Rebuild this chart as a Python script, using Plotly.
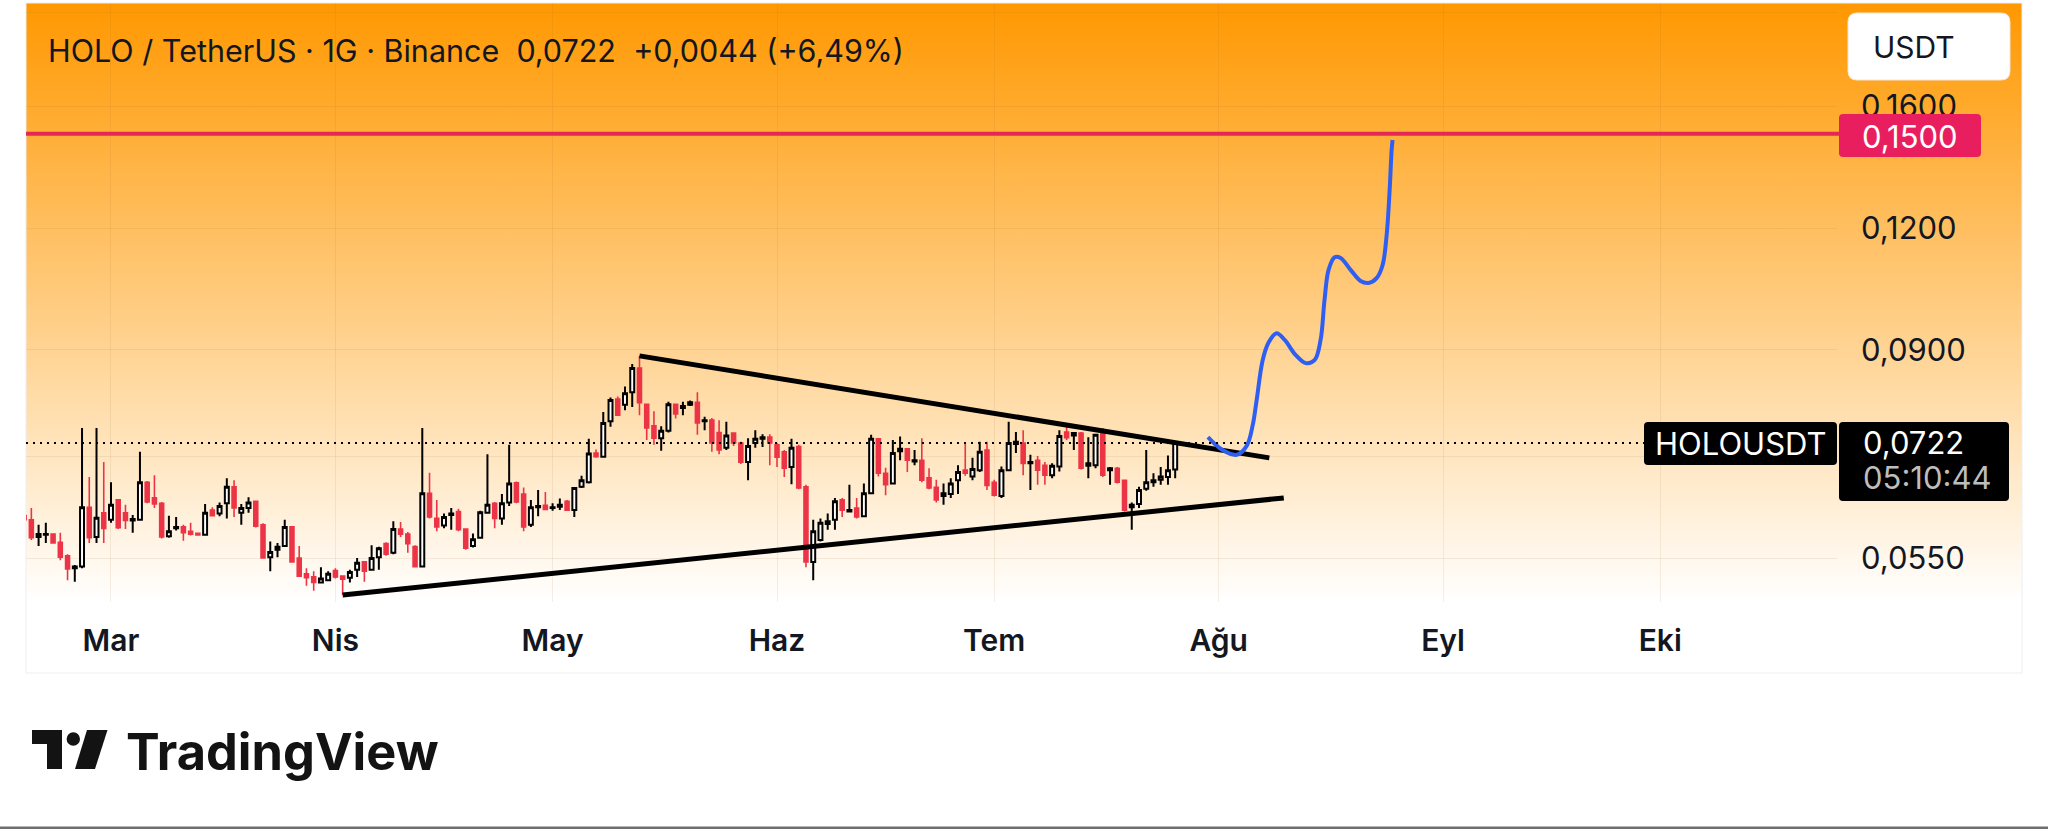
import base64
import numpy as np
import pandas as pd
import plotly.graph_objects as go

# ---------------- data ----------------
start_date = "2026-02-17"

opens = [
    0.0608, 0.0602, 0.0578, 0.0581, 0.0582, 0.0571, 0.0553, 0.0537, 0.0539, 0.0620, 0.0578, 0.0612,
    0.0602, 0.0631, 0.0612, 0.0601, 0.0602, 0.0658, 0.0634, 0.0626, 0.0579, 0.0590,
    0.0592, 0.0586, 0.0583, 0.0581, 0.0616, 0.0611, 0.0626, 0.0651, 0.0612, 0.0619,
    0.0629, 0.0595, 0.0551, 0.0561, 0.0566, 0.0592, 0.0550, 0.0530, 0.0526, 0.0519, 0.0522,
    0.0534, 0.0527, 0.0525, 0.0535, 0.0545, 0.0535, 0.0551, 0.0569, 0.0557, 0.0589,
    0.0582, 0.0565, 0.0539, 0.0641, 0.0604, 0.0594, 0.0609, 0.0614, 0.0589, 0.0566,
    0.0577, 0.0612, 0.0626, 0.0604, 0.0627, 0.0657, 0.0640, 0.0595, 0.0620, 0.0623,
    0.0619, 0.0621, 0.0629, 0.0616, 0.0651, 0.0658, 0.0705, 0.0699, 0.0760, 0.0801,
    0.0790, 0.0814, 0.0862, 0.0791, 0.0752, 0.0730, 0.0743, 0.0791, 0.0784, 0.0790,
    0.0795, 0.0760, 0.0762, 0.0740, 0.0714, 0.0739, 0.0722, 0.0690, 0.0722, 0.0729, 0.0732,
    0.0719, 0.0707, 0.0682, 0.0716, 0.0651, 0.0545, 0.0574, 0.0596, 0.0602, 0.0631,
    0.0614, 0.0619, 0.0607, 0.0641, 0.0729, 0.0672, 0.0656, 0.0708, 0.0712, 0.0691,
    0.0693, 0.0665, 0.0650, 0.0637, 0.0640, 0.0661, 0.0677, 0.0667, 0.0677, 0.0710,
    0.0658, 0.0637, 0.0677, 0.0720, 0.0722, 0.0688, 0.0693, 0.0685, 0.0669, 0.0683,
    0.0741, 0.0735, 0.0739, 0.0684, 0.0685, 0.0741, 0.0677, 0.0680, 0.0661, 0.0620,
    0.0625, 0.0648, 0.0658, 0.0662, 0.0666, 0.0678,
]
highs = [
    0.0612, 0.0619, 0.0595, 0.0598, 0.0583, 0.0584, 0.0555, 0.0541, 0.0748, 0.0666, 0.0748, 0.0690,
    0.0658, 0.0632, 0.0624, 0.0609, 0.0707, 0.0660, 0.0669, 0.0628, 0.0608, 0.0606,
    0.0595, 0.0598, 0.0584, 0.0625, 0.0620, 0.0627, 0.0664, 0.0661, 0.0625, 0.0635,
    0.0630, 0.0597, 0.0572, 0.0570, 0.0602, 0.0593, 0.0566, 0.0537, 0.0533, 0.0538, 0.0533,
    0.0537, 0.0528, 0.0535, 0.0550, 0.0546, 0.0567, 0.0565, 0.0571, 0.0600, 0.0599,
    0.0585, 0.0567, 0.0748, 0.0673, 0.0631, 0.0611, 0.0619, 0.0618, 0.0590, 0.0583,
    0.0615, 0.0703, 0.0628, 0.0640, 0.0719, 0.0659, 0.0650, 0.0631, 0.0646, 0.0643,
    0.0626, 0.0633, 0.0631, 0.0650, 0.0668, 0.0729, 0.0711, 0.0777, 0.0804, 0.0806,
    0.0825, 0.0870, 0.0887, 0.0792, 0.0778, 0.0751, 0.0796, 0.0792, 0.0796, 0.0798,
    0.0814, 0.0768, 0.0766, 0.0762, 0.0759, 0.0739, 0.0724, 0.0730, 0.0744, 0.0737, 0.0737,
    0.0722, 0.0710, 0.0729, 0.0719, 0.0654, 0.0602, 0.0604, 0.0611, 0.0634, 0.0634,
    0.0654, 0.0634, 0.0656, 0.0736, 0.0730, 0.0681, 0.0727, 0.0733, 0.0713, 0.0710,
    0.0730, 0.0680, 0.0662, 0.0656, 0.0664, 0.0685, 0.0722, 0.0697, 0.0724, 0.0724,
    0.0662, 0.0683, 0.0759, 0.0741, 0.0744, 0.0702, 0.0700, 0.0690, 0.0688, 0.0744,
    0.0753, 0.0741, 0.0741, 0.0732, 0.0738, 0.0748, 0.0682, 0.0682, 0.0662, 0.0627,
    0.0651, 0.0710, 0.0672, 0.0682, 0.0701, 0.0724,
]
lows = [
    0.0598, 0.0574, 0.0566, 0.0570, 0.0569, 0.0547, 0.0522, 0.0520, 0.0537, 0.0570, 0.0570, 0.0570,
    0.0598, 0.0589, 0.0589, 0.0584, 0.0601, 0.0626, 0.0619, 0.0576, 0.0577, 0.0587,
    0.0573, 0.0580, 0.0580, 0.0580, 0.0607, 0.0607, 0.0604, 0.0606, 0.0595, 0.0612,
    0.0591, 0.0549, 0.0533, 0.0551, 0.0565, 0.0544, 0.0526, 0.0515, 0.0509, 0.0518, 0.0521,
    0.0524, 0.0504, 0.0519, 0.0526, 0.0520, 0.0534, 0.0535, 0.0553, 0.0555, 0.0578,
    0.0557, 0.0538, 0.0538, 0.0604, 0.0586, 0.0590, 0.0588, 0.0586, 0.0561, 0.0564,
    0.0576, 0.0611, 0.0590, 0.0595, 0.0622, 0.0626, 0.0586, 0.0592, 0.0607, 0.0616,
    0.0615, 0.0616, 0.0615, 0.0606, 0.0649, 0.0656, 0.0697, 0.0697, 0.0750, 0.0770,
    0.0780, 0.0786, 0.0771, 0.0727, 0.0719, 0.0709, 0.0740, 0.0765, 0.0771, 0.0788,
    0.0736, 0.0744, 0.0707, 0.0703, 0.0710, 0.0717, 0.0687, 0.0661, 0.0714, 0.0715, 0.0685,
    0.0682, 0.0666, 0.0655, 0.0647, 0.0538, 0.0522, 0.0572, 0.0588, 0.0588, 0.0606,
    0.0613, 0.0604, 0.0606, 0.0640, 0.0667, 0.0638, 0.0655, 0.0693, 0.0674, 0.0685,
    0.0658, 0.0647, 0.0627, 0.0624, 0.0634, 0.0640, 0.0668, 0.0661, 0.0674, 0.0646,
    0.0636, 0.0634, 0.0676, 0.0705, 0.0669, 0.0646, 0.0654, 0.0654, 0.0664, 0.0675,
    0.0727, 0.0710, 0.0678, 0.0664, 0.0680, 0.0666, 0.0654, 0.0656, 0.0614, 0.0588,
    0.0619, 0.0645, 0.0651, 0.0654, 0.0654, 0.0664,
]
closes = [
    0.0602, 0.0577, 0.0582, 0.0582, 0.0570, 0.0551, 0.0536, 0.0539, 0.0620, 0.0577, 0.0605, 0.0590,
    0.0624, 0.0591, 0.0601, 0.0603, 0.0658, 0.0628, 0.0625, 0.0578, 0.0586, 0.0592,
    0.0584, 0.0582, 0.0581, 0.0612, 0.0608, 0.0622, 0.0651, 0.0619, 0.0619, 0.0627,
    0.0593, 0.0550, 0.0558, 0.0565, 0.0592, 0.0545, 0.0527, 0.0525, 0.0519, 0.0524, 0.0530,
    0.0526, 0.0523, 0.0532, 0.0544, 0.0533, 0.0550, 0.0563, 0.0555, 0.0589, 0.0582,
    0.0569, 0.0539, 0.0641, 0.0606, 0.0592, 0.0606, 0.0611, 0.0588, 0.0563, 0.0575,
    0.0613, 0.0624, 0.0604, 0.0626, 0.0656, 0.0628, 0.0592, 0.0620, 0.0622, 0.0617,
    0.0620, 0.0624, 0.0616, 0.0649, 0.0661, 0.0704, 0.0699, 0.0757, 0.0799, 0.0771,
    0.0812, 0.0862, 0.0794, 0.0748, 0.0730, 0.0743, 0.0791, 0.0773, 0.0788, 0.0795,
    0.0757, 0.0762, 0.0722, 0.0710, 0.0735, 0.0722, 0.0690, 0.0717, 0.0729, 0.0732, 0.0722,
    0.0698, 0.0680, 0.0714, 0.0649, 0.0545, 0.0586, 0.0598, 0.0600, 0.0629, 0.0616,
    0.0616, 0.0606, 0.0641, 0.0729, 0.0672, 0.0654, 0.0705, 0.0712, 0.0693, 0.0693,
    0.0661, 0.0649, 0.0631, 0.0641, 0.0656, 0.0674, 0.0672, 0.0679, 0.0707, 0.0653,
    0.0638, 0.0677, 0.0722, 0.0724, 0.0688, 0.0690, 0.0677, 0.0669, 0.0684, 0.0734,
    0.0731, 0.0739, 0.0680, 0.0688, 0.0736, 0.0669, 0.0680, 0.0658, 0.0616, 0.0624,
    0.0646, 0.0658, 0.0661, 0.0667, 0.0677, 0.0722,
]

# drawn trend lines (triangle)
upper_dates = ["2026-05-13", "2026-08-08"]
upper_prices = [0.0887, 0.0697]
lower_dates = ["2026-04-02", "2026-08-10"]
lower_prices = [0.0504, 0.0634]

# hand-drawn projection (blue)
proj_dates = [
    "2026-07-30 12:30", "2026-08-01 13:00", "2026-08-03 12:00", "2026-08-04 21:00",
    "2026-08-05 17:00", "2026-08-06 06:00", "2026-08-07 02:00", "2026-08-07 22:00",
    "2026-08-09 00:15", "2026-08-10 03:00", "2026-08-11 15:00", "2026-08-13 00:30",
    "2026-08-14 06:00", "2026-08-15 02:00", "2026-08-15 15:00", "2026-08-16 04:30",
    "2026-08-17 00:30", "2026-08-17 20:30", "2026-08-19 05:30", "2026-08-20 14:30",
    "2026-08-21 17:00", "2026-08-22 19:45", "2026-08-23 15:30", "2026-08-24 05:00",
    "2026-08-24 15:00", "2026-08-24 21:30", "2026-08-25 00:45",
]
proj_prices = [
    0.0732, 0.0710, 0.0702, 0.0717, 0.0753, 0.0799, 0.0878, 0.0916,
    0.0936, 0.0921, 0.0889, 0.0872, 0.0878, 0.0921, 0.1012, 0.1087,
    0.1120, 0.1118, 0.1087, 0.1059, 0.1054, 0.1066, 0.1099, 0.1180,
    0.1313, 0.1443, 0.1478,
]

target_price = 0.1500
last_price = 0.0722

month_ticks = ["2026-03-01", "2026-04-01", "2026-05-01", "2026-06-01",
               "2026-07-01", "2026-08-01", "2026-09-01", "2026-10-01"]
month_labels = ["Mar", "Nis", "May", "Haz", "Tem", "Ağu", "Eyl", "Eki"]

price_ticks = [0.055, 0.07, 0.09, 0.12, 0.16, 0.20]
price_labels = ["0,0550", "", "0,0900", "0,1200", "0,1600", ""]

title_text = "HOLO / TetherUS · 1G · Binance \u00a00,0722 \u00a0+0,0044 (+6,49%)"

# ---------------- layout geometry ----------------
W, H = 2048, 829
PL, PR, PT, PB = 26, 1837, 3, 602
FONT = "Inter"


def px(X):
    return (X - PL) / (PR - PL)


def py(Y):
    return (PB - Y) / (PB - PT)


def rrect(x0, y0, x1, y1, r):
    pts = []
    cmds = [
        ("M", x0 + r, y0), ("L", x1 - r, y0), ("Q", x1, y0, x1, y0 + r),
        ("L", x1, y1 - r), ("Q", x1, y1, x1 - r, y1), ("L", x0 + r, y1),
        ("Q", x0, y1, x0, y1 - r), ("L", x0, y0 + r), ("Q", x0, y0, x0 + r, y0),
    ]
    for c in cmds:
        if c[0] == "Q":
            pts.append("Q%.6f,%.6f %.6f,%.6f" % (px(c[1]), py(c[2]), px(c[3]), py(c[4])))
        else:
            pts.append("%s%.6f,%.6f" % (c[0], px(c[1]), py(c[2])))
    return " ".join(pts) + " Z"


dates = pd.date_range(start_date, periods=len(closes), freq="D")

fig = go.Figure()

fig.add_trace(go.Candlestick(
    x=dates, open=opens, high=highs, low=lows, close=closes,
    increasing=dict(fillcolor="#FFFFFF", line=dict(color="#000000", width=2)),
    decreasing=dict(fillcolor="#EC3446", line=dict(color="#EC3446", width=1.6)),
    whiskerwidth=0, hoverinfo="skip", showlegend=False,
))

fig.add_trace(go.Scatter(x=upper_dates, y=upper_prices, mode="lines",
                         line=dict(color="#000000", width=5), showlegend=False, hoverinfo="skip"))
fig.add_trace(go.Scatter(x=lower_dates, y=lower_prices, mode="lines",
                         line=dict(color="#000000", width=5), showlegend=False, hoverinfo="skip"))
fig.add_trace(go.Scatter(x=proj_dates, y=proj_prices, mode="lines",
                         line=dict(color="#2E5FF2", width=4, shape="spline", smoothing=1.0),
                         showlegend=False, hoverinfo="skip"))

# gradient background (pane + price scale)
svg = ('<svg xmlns="http://www.w3.org/2000/svg" width="10" height="100" preserveAspectRatio="none">'
       '<defs><linearGradient id="g" x1="0" y1="0" x2="0" y2="1">'
       '<stop offset="0" stop-color="#FF9800"/><stop offset="1" stop-color="#FFFFFF"/>'
       '</linearGradient></defs><rect width="10" height="100" fill="url(#g)"/></svg>')
src = "data:image/svg+xml;base64," + base64.b64encode(svg.encode()).decode()

shapes = []
# outer frame
shapes.append(dict(type="rect", xref="paper", yref="paper", x0=px(26), x1=px(2022), y0=py(3), y1=py(673),
                   line=dict(color="#ECEEF2", width=1), fillcolor="rgba(0,0,0,0)", layer="below"))
# dotted last-price line
shapes.append(dict(type="line", xref="paper", yref="y", x0=0, x1=px(1644), y0=last_price, y1=last_price,
                   line=dict(color="#000000", width=2, dash="2px,5px"), layer="above"))
# target line
shapes.append(dict(type="line", xref="paper", yref="y", x0=0, x1=px(1840), y0=target_price, y1=target_price,
                   line=dict(color="#E32856", width=4), layer="above"))
# tags
shapes.append(dict(type="path", xref="paper", yref="paper", path=rrect(1839, 114, 1981, 157, 4),
                   fillcolor="#E91E5E", line=dict(width=0), layer="above"))
shapes.append(dict(type="path", xref="paper", yref="paper", path=rrect(1644, 422, 1837, 465, 4),
                   fillcolor="#000000", line=dict(width=0), layer="above"))
shapes.append(dict(type="path", xref="paper", yref="paper", path=rrect(1839, 422, 2009, 501, 4),
                   fillcolor="#000000", line=dict(width=0), layer="above"))
shapes.append(dict(type="path", xref="paper", yref="paper", path=rrect(1848, 13, 2010, 80, 9),
                   fillcolor="#FFFFFF", line=dict(color="#F2E6D6", width=1), layer="above"))
# TradingView logo mark
shapes.append(dict(type="rect", xref="paper", yref="paper", x0=px(32), x1=px(62), y0=py(730), y1=py(744),
                   fillcolor="#131313", line=dict(width=0)))
shapes.append(dict(type="rect", xref="paper", yref="paper", x0=px(47), x1=px(62), y0=py(730), y1=py(769),
                   fillcolor="#131313", line=dict(width=0)))
shapes.append(dict(type="circle", xref="paper", yref="paper", x0=px(66.6), x1=px(80), y0=py(732.3), y1=py(745.7),
                   fillcolor="#131313", line=dict(width=0)))
shapes.append(dict(type="path", xref="paper", yref="paper",
                   path="M%.6f,%.6f L%.6f,%.6f L%.6f,%.6f L%.6f,%.6f Z" % (
                       px(87), py(730), px(107.5), py(730), px(95), py(769), px(75), py(769)),
                   fillcolor="#131313", line=dict(width=0)))
# bottom screen edge
shapes.append(dict(type="rect", xref="paper", yref="paper", x0=px(0), x1=px(2048), y0=py(826.5), y1=py(829),
                   fillcolor="#6E6E6E", line=dict(width=0)))

annotations = [
    dict(text=title_text, x=px(46), y=py(50), xref="paper", yref="paper", xanchor="left", yanchor="middle",
         showarrow=False, font=dict(family=FONT, size=30.5, color="#131722")),
    dict(text="USDT", x=px(1871), y=py(47), xref="paper", yref="paper", xanchor="left", yanchor="middle",
         showarrow=False, font=dict(family=FONT, size=30, color="#131722")),
    dict(text="0,1500", x=px(1910), y=py(136), xref="paper", yref="paper", xanchor="center", yanchor="middle",
         showarrow=False, font=dict(family=FONT, size=31, color="#FFFFFF")),
    dict(text="HOLOUSDT", x=px(1740.5), y=py(444), xref="paper", yref="paper", xanchor="center", yanchor="middle",
         showarrow=False, font=dict(family=FONT, size=31, color="#FFFFFF")),
    dict(text="0,0722", x=px(1861), y=py(443), xref="paper", yref="paper", xanchor="left", yanchor="middle",
         showarrow=False, font=dict(family=FONT, size=31, color="#FFFFFF")),
    dict(text="05:10:44", x=px(1861), y=py(478), xref="paper", yref="paper", xanchor="left", yanchor="middle",
         showarrow=False, font=dict(family=FONT, size=31, color="#BDBDBD")),
    dict(text="TradingView", x=px(124), y=py(752), xref="paper", yref="paper", xanchor="left", yanchor="middle",
         showarrow=False, font=dict(family=FONT, size=50.5, color="#131313", weight=700)),
]

fig.update_layout(
    width=W, height=H,
    margin=dict(l=PL, r=W - PR, t=PT, b=H - PB, pad=0),
    paper_bgcolor="#FFFFFF", plot_bgcolor="rgba(0,0,0,0)",
    separators=",.",
    showlegend=False,
    boxgap=0.22,
    hovermode=False,
    images=[dict(source=src, xref="paper", yref="paper", x=0, y=1, sizex=px(2022), sizey=1,
                 xanchor="left", yanchor="top", sizing="stretch", layer="below")],
    shapes=shapes,
    annotations=annotations,
    xaxis=dict(
        type="date",
        range=["2026-02-17 06:15", "2026-10-25 10:00"],
        tickvals=month_ticks, ticktext=month_labels,
        showgrid=True, gridcolor="rgba(150,100,40,0.10)", gridwidth=1,
        zeroline=False, showline=False,
        ticks="", ticklabelstandoff=18,
        tickfont=dict(family=FONT, size=30, color="#131722", weight=600),
        rangeslider=dict(visible=False), fixedrange=True,
    ),
    yaxis=dict(
        type="log", side="right",
        range=[np.log10(0.04957), np.log10(0.2043)],
        tickvals=price_ticks, ticktext=price_labels,
        showgrid=True, gridcolor="rgba(150,100,40,0.10)", gridwidth=1,
        zeroline=False, showline=False,
        ticks="", ticklabelstandoff=23,
        tickfont=dict(family=FONT, size=31, color="#131722"),
        fixedrange=True,
    ),
)

fig.write_html("out.html", config={"displayModeBar": False},
               post_script="document.body.style.margin='0px';")
